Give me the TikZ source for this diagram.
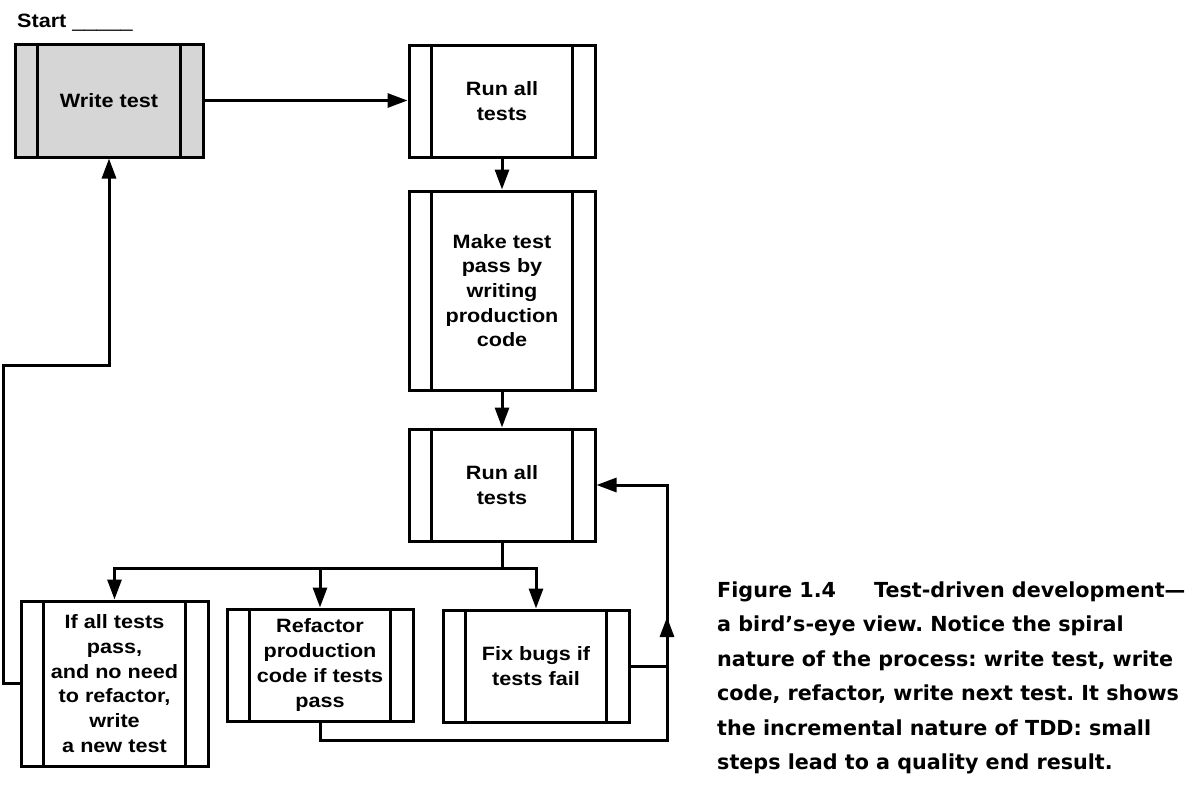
\documentclass[tikz,border=0pt]{standalone}
\usepackage{fontspec}
\setmainfont{Liberation Sans}[FakeStretch=1.12]
\newfontfamily\capfont{DejaVu Sans}
\usetikzlibrary{arrows.meta}
\definecolor{boxgray}{HTML}{D6D6D6}
\tikzstyle{process} = [rectangle, draw=black, line width=3pt, minimum width=186pt, minimum height=112pt, inner sep=0pt, align=center, font=\bfseries\fontsize{19.3}{24.7}\selectfont,
  path picture={\draw[line width=3pt] ([xshift=22.5pt]path picture bounding box.north west) -- ([xshift=22.5pt]path picture bounding box.south west)
    ([xshift=-22.5pt]path picture bounding box.north east) -- ([xshift=-22.5pt]path picture bounding box.south east);}]
\tikzstyle{arrow} = [line width=3pt, -{Triangle[length=20pt,width=14pt]}]
\tikzstyle{caption} = [align=left, inner sep=0pt, font=\capfont\bfseries\fontsize{20.7}{34.4}\selectfont\frenchspacing]

\begin{document}
\begin{tikzpicture}[x=1pt,y=-1pt]
\useasboundingbox (0,0) rectangle (1197,796);

\node[anchor=base west, inner sep=0pt, font=\bfseries\fontsize{19.3}{24.7}\selectfont] (start) at (17,27) {Start \mdseries\_\_\_\_\_};

\node[process, fill=boxgray, minimum width=188pt, minimum height=113pt] (write) at (109,100.5) {Write test};
\node[process] (runA) at (502,101) {Run all\\tests};
\node[process, minimum height=199pt] (make) at (502,290.5) {Make test\\pass by\\writing\\production\\code};
\node[process] (runB) at (502,485) {Run all\\tests};
\node[process, minimum width=187pt, minimum height=165pt] (pass) at (114.5,683.5) {If all tests\\pass,\\and no need\\to refactor,\\write\\a new test};
\node[process] (refactor) at (320,665) {Refactor\\production\\code if tests\\pass};
\node[process] (fix) at (536,666) {Fix bugs if\\tests fail};

\draw[arrow] (write.east) -- (write.east -| runA.west);
\draw[arrow] (runA) -- (make);
\draw[arrow] (make) -- (runB);

\coordinate (fork) at (502,568);
\draw[line width=3pt] (runB) -- (fork);
\foreach \n in {pass,refactor,fix}
	\draw[arrow] (fork) -| (\n.north);

\coordinate (backL) at (3,365);
\draw[arrow] (pass.west) -| (backL) -| (write.south);

\coordinate (loopB) at (667,740);
\coordinate (loopM) at (667,617);
\coordinate (loopT) at (667,485);
\draw[arrow] (refactor.south) |- (loopB) -- (loopM);
\draw[arrow] (fix.east) -| (loopT) -- (runB.east);

\node[caption, anchor=north west] (cap) at (717,581.5) {Figure 1.4\hspace{38pt}Test-driven development—\\a bird’s-eye view. Notice the spiral\\nature of the process: write test, write\\code, refactor, write next test. It shows\\the incremental nature of TDD: small\\steps lead to a quality end result.};
\end{tikzpicture}
\end{document}
